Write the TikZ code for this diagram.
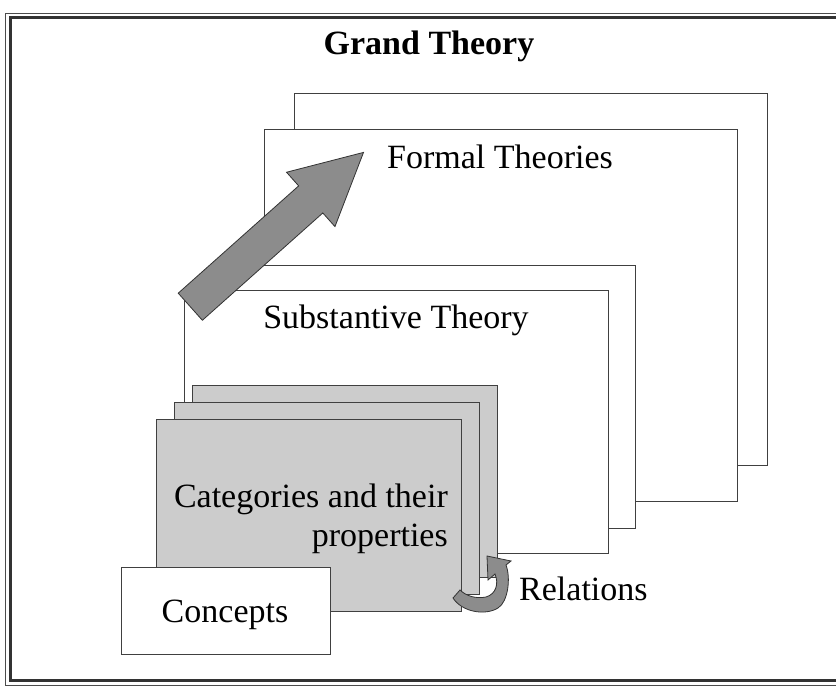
\documentclass[tikz,border=0pt]{standalone}
\usepackage{fontspec}
\setmainfont{Liberation Serif}
\usetikzlibrary{shapes.arrows}

\begin{document}
\begin{tikzpicture}[
    x=1pt, y=-1pt,
    font=\fontsize{34}{39}\selectfont,
    sheet/.style={draw=black!75, line width=0.9pt, fill=white, inner sep=0pt, anchor=north west},
    graysheet/.style={sheet, fill=black!20},
    txt/.style={inner sep=0pt},
    bigarrow/.style={fill=black!45, draw=black!80, line width=0.8pt},
  ]
    \useasboundingbox (0,0) rectangle (836,687);
    \clip (0,0) rectangle (836,687);

    % frame
    \draw[line width=3pt, black!80] (10,18) rectangle (850,680);
    \draw[line width=0.8pt, black!70] (5.5,13) rectangle (855,685);

    \node[txt, anchor=base, font=\fontsize{34}{39}\selectfont\bfseries] (grand) at (429,55) {Grand Theory};

    \node[sheet, minimum width=473pt, minimum height=372pt] (formB) at (294,93) {};
    \node[sheet, minimum width=473pt, minimum height=372pt] (formA) at (264,129) {};
    \node[txt, anchor=base] (formal) at (500,169) {Formal Theories};

    \node[sheet, minimum width=425pt, minimum height=263pt] (subB) at (210,265) {};
    \node[sheet, minimum width=424pt, minimum height=263pt] (subA) at (184,290) {};
    \node[txt, anchor=base] (subst) at (396,329) {Substantive Theory};

    \node[single arrow, bigarrow, minimum height=232pt, minimum width=72pt,
          single arrow head extend=18.25pt, single arrow tip angle=54.5,
          inner xsep=0pt, inner ysep=17.75pt, rotate=41.7, anchor=tail] (rise) at (190,307) {};

    \foreach \i in {0,1,2}
      \node[graysheet, minimum width=305pt, minimum height=192pt] (cat\i) at (192-18*\i, 385+17*\i) {};
    \node[txt, anchor=base east, align=right] (cats) at (448,546) {Categories and their\\properties};

    \node[sheet, minimum width=209pt, minimum height=87pt] (concbox) at (121,567) {};
    \node[txt, anchor=base] (conc) at (225,622) {Concepts};

    % curved arrow
    \filldraw[bigarrow]
      (453,598) .. controls (462,612) and (485,616) .. (498,608)
      .. controls (508,602) and (511,578) .. (506,565)
      -- (511,561) -- (487,556) -- (488,580) -- (495,574)
      .. controls (499,584) and (496,594) .. (486,597)
      .. controls (476,599) and (466,596) .. (460,590) -- cycle;
    \node[txt, anchor=base west] (rel) at (519,600) {Relations};
\end{tikzpicture}
\end{document}
